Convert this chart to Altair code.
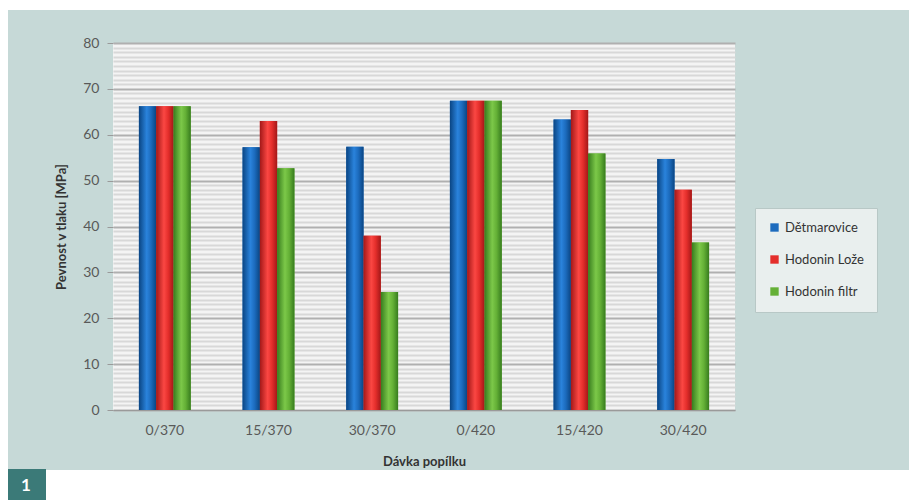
import altair as alt
import pandas as pd

doses = ["0/370", "15/370", "30/370", "0/420", "15/420", "30/420"]
series_names = ["Dětmarovice", "Hodonin Lože", "Hodonin filtr"]
detmarovice = [66.2, 57.3, 57.4, 67.4, 63.3, 54.7]
hodonin_loze = [66.2, 63.0, 38.0, 67.4, 65.4, 48.0]
hodonin_filtr = [66.2, 52.7, 25.7, 67.4, 55.9, 36.5]

colors = ["#1c6bbd", "#e42e2b", "#64b036"]
dark = ["#0a4583", "#a31818", "#377c1e"]
light = ["#2a83dc", "#fb4743", "#7cc849"]

rows = []
for s, vals in zip(series_names, [detmarovice, hodonin_loze, hodonin_filtr]):
    for d, v in zip(doses, vals):
        rows.append({"dose": d, "series": s, "value": v})
df = pd.DataFrame(rows)

W, H = 622, 367
FONT = "Lato"

x_enc = alt.X("dose:N", sort=doses,
              scale=alt.Scale(paddingInner=0.5, paddingOuter=0.25),
              axis=alt.Axis(title="Dávka popílku", labelAngle=0, ticks=False,
                            labelPadding=13, titlePadding=18,
                            domainColor="#9a9a9a", labelColor="#595959",
                            labelFontSize=14, titleFontSize=13, titleColor="#333333",
                            titleFontWeight="bold", labelFont=FONT, titleFont=FONT))
y_enc = alt.Y("value:Q",
              scale=alt.Scale(domain=[0, 80], nice=False),
              axis=alt.Axis(title="Pevnost v tlaku [MPa]", values=list(range(0, 81)),
                            labelExpr="datum.value % 10 === 0 ? datum.label : ''",
                            grid=True, gridWidth=2,
                            gridColor=alt.condition("datum.value % 10 === 0",
                                                    alt.value("#b0b0b0"), alt.value("#d8d8d8")),
                            tickOpacity=alt.condition("datum.value % 10 === 0",
                                                      alt.value(1), alt.value(0)),
                            tickColor="#9a9a9a", tickSize=6, labelPadding=8,
                            domain=False, labelColor="#595959", labelFontSize=14,
                            titleFontSize=13, titleColor="#333333", titleFontWeight="bold",
                            titlePadding=14, labelFont=FONT, titleFont=FONT))
xo = alt.XOffset("series:N", sort=series_names)

base = alt.Chart(df)
solid = base.mark_bar().encode(
    x=x_enc, xOffset=xo, y=y_enc,
    color=alt.Color("series:N", sort=series_names,
                    scale=alt.Scale(domain=series_names, range=colors),
                    legend=alt.Legend(title=None, orient="none", legendX=642, legendY=165,
                                      symbolType="square", symbolSize=70,
                                      labelFontSize=13, labelColor="#333333", labelFont=FONT,
                                      rowPadding=18, padding=13, fillColor="#e9efee",
                                      strokeColor="#b8c8c6", symbolStrokeWidth=0)))

grad_layers = []
for i, s in enumerate(series_names):
    g = alt.LinearGradient(gradient="linear", x1=0, x2=1, y1=0, y2=0,
                           stops=[alt.GradientStop(color=dark[i], offset=0),
                                  alt.GradientStop(color=light[i], offset=0.45),
                                  alt.GradientStop(color=colors[i], offset=0.7),
                                  alt.GradientStop(color=dark[i], offset=1)])
    grad_layers.append(
        base.transform_filter(alt.datum.series == s)
        .mark_bar(color=g)
        .encode(x=x_enc, xOffset=xo, y=y_enc)
    )

one = alt.Data(values=[{"k": 1}])
def deco(x1, x2, y1, y2, color):
    return alt.Chart(one).mark_rect(color=color).encode(
        x=alt.value(x1), x2=alt.value(x2), y=alt.value(y1), y2=alt.value(y2))

decos = [
    deco(-113, 796, -43, -33, "white"),
    deco(-113, -105, -43, 457, "white"),
    deco(-113, 796, 427, 457, "white"),
    deco(-105, -67, 426, 457, "#3b7a78"),
]
badge_text = alt.Chart(one).mark_text(text="1", color="white", fontSize=17,
                                      font=FONT, fontWeight="bold").encode(
    x=alt.value(-87), y=alt.value(443))

chart = alt.layer(*decos, badge_text, solid, *grad_layers).properties(
    width=W, height=H,
    background="#c6d9d7",
    padding={"left": 113, "top": 43, "right": 174, "bottom": 90},
    autosize=alt.AutoSizeParams(type="none"),
).configure_view(fill="#f4f4f4", stroke=None)

chart.save("out.html", embed_options={"renderer": "svg", "actions": False})
